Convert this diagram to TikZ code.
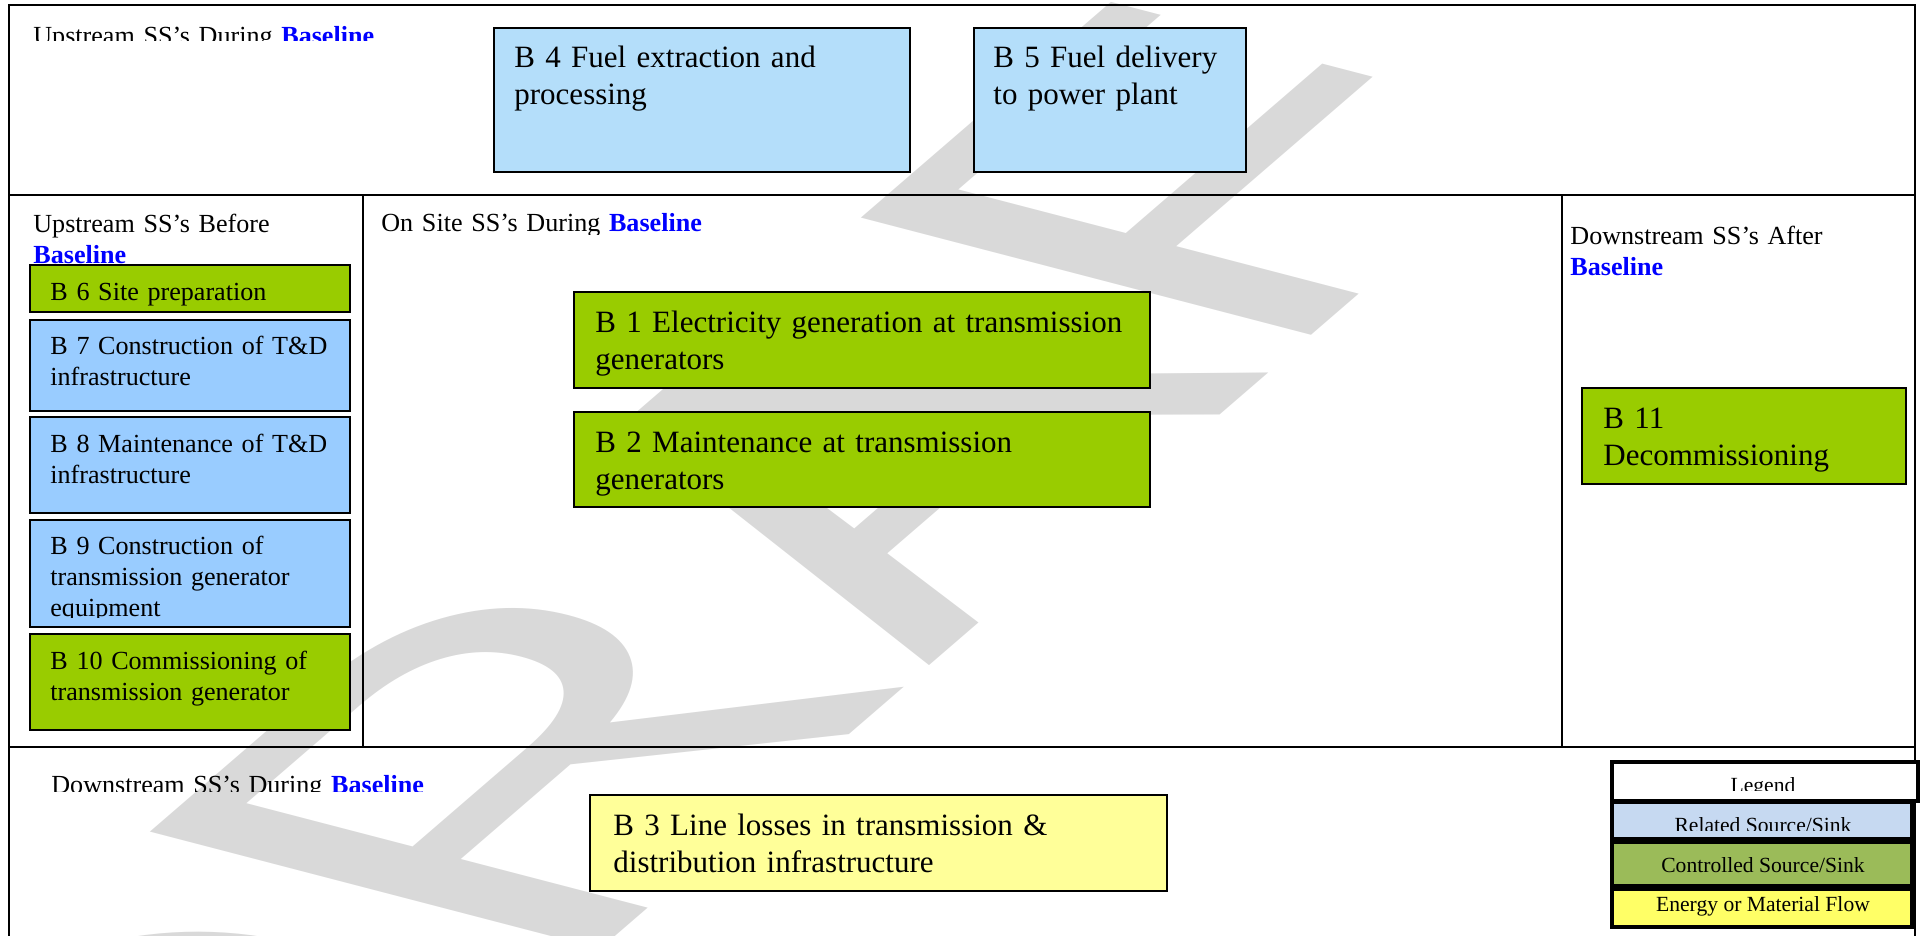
\documentclass[tikz,border=0pt]{standalone}
\usepackage{fontspec}
\setmainfont{Liberation Serif}
\newfontfamily\markfont{Liberation Sans}
\definecolor{fuelblue}{RGB}{180,222,250}
\definecolor{relblue}{RGB}{153,204,255}
\definecolor{ctrlgreen}{RGB}{153,204,0}
\definecolor{flowyellow}{RGB}{255,255,153}
\definecolor{legblue}{RGB}{198,217,241}
\definecolor{leggreen}{RGB}{155,187,89}
\definecolor{legyellow}{RGB}{255,255,102}
\definecolor{baseblue}{RGB}{0,0,255}
\def\blword{\textcolor{baseblue}{\textbf{Baseline}}}
\tikzset{
	frame/.style={line width=1pt},
	ssbox/.style={draw, line width=1pt},
	legbox/.style={draw, line width=1.8pt},
	bigtxt/.style={anchor=base west, inner sep=0, align=left, text width=300pt, font=\fontsize{15.5}{18.5}\selectfont},
	smalltxt/.style={anchor=base west, inner sep=0, align=left, text width=300pt, font=\fontsize{13.05}{15.5}\selectfont},
	legtxt/.style={anchor=base, inner sep=0, font=\fontsize{10.8}{12}\selectfont}
}

\begin{document}
\begin{tikzpicture}[x=0.5pt, y=-0.5pt]
			%%%%% START %%%%%
			\useasboundingbox (0,0) rectangle (1923,936);
			
			\path (189,1304) node[cm={0.757,0.653,-0.968,0.252,(0,0)}, anchor=base west, inner sep=0, text=gray!30, font=\markfont\fontsize{338}{338}\selectfont] (draftmark) {DRAFT};
			
			\draw[frame] (9,5) rectangle (1915,195);
			\draw[frame] (9,195) rectangle (363,747);
			\draw[frame] (363,195) rectangle (1562,747);
			\draw[frame] (1562,195) rectangle (1915,747);
			\draw[frame] (9,940) -- (9,747) -- (1915,747) -- (1915,940);
			
			\begin{scope}
				\clip (9,5) rectangle (1915,41);
				\node[smalltxt] (upduring) at (33,45) {Upstream SS’s During \blword};
			\end{scope}
			\node[smalltxt] (upbefore) at (33,233) {Upstream SS’s Before\\\blword};
			\begin{scope}
				\clip (363,195) rectangle (1562,235);
				\node[smalltxt] (onsite) at (381,232) {On Site SS’s During \blword};
			\end{scope}
			\node[smalltxt] (downafter) at (1570,245) {Downstream SS’s After\\\blword};
			\begin{scope}
				\clip (9,747) rectangle (1915,791);
				\node[smalltxt] (downduring) at (51,793) {Downstream SS’s During \blword};
			\end{scope}
			
			\draw[ssbox, fill=fuelblue] (494,28) rectangle (910,172);
			\node[bigtxt] (b4) at (514,68) {B 4 Fuel extraction and\\processing};
			\draw[ssbox, fill=fuelblue] (974,28) rectangle (1246,172);
			\node[bigtxt] (b5) at (993,68) {B 5 Fuel delivery\\to power plant};
			
			\draw[ssbox, fill=ctrlgreen] (574,292) rectangle (1150,388);
			\node[bigtxt] (b1) at (595,333) {B 1 Electricity generation at transmission\\generators};
			\draw[ssbox, fill=ctrlgreen] (574,412) rectangle (1150,507);
			\node[bigtxt] (b2) at (595,452) {B 2 Maintenance at transmission\\generators};
			
			\draw[ssbox, fill=flowyellow] (590,795) rectangle (1167,891);
			\node[bigtxt] (b3) at (613,835) {B 3 Line losses in transmission \&\\distribution infrastructure};
			
			\draw[ssbox, fill=ctrlgreen] (1582,388) rectangle (1906,484);
			\node[bigtxt] (b11) at (1603,428) {B 11\\Decommissioning};
			
			\draw[ssbox, fill=ctrlgreen] (30,265) rectangle (350,312);
			\node[smalltxt] (b6) at (50,301) {B 6 Site preparation};
			\draw[ssbox, fill=relblue] (30,320) rectangle (350,411);
			\node[smalltxt] (b7) at (50,355) {B 7 Construction of T\&D\\infrastructure};
			\draw[ssbox, fill=relblue] (30,417) rectangle (350,513);
			\node[smalltxt] (b8) at (50,452) {B 8 Maintenance of T\&D\\infrastructure};
			\draw[ssbox, fill=relblue] (30,520) rectangle (350,627);
			\begin{scope}
				\clip (30,520) rectangle (350,617);
				\node[smalltxt] (b9) at (50,554) {B 9 Construction of\\transmission generator\\equipment};
			\end{scope}
			\draw[ssbox, fill=ctrlgreen] (30,634) rectangle (350,730);
			\node[smalltxt] (b10) at (50,669) {B 10 Commissioning of\\transmission generator};
			
			\draw[legbox, line width=2.2pt, fill=white] (1612,762) rectangle (1918,801);
			\begin{scope}
				\clip (1612,762) rectangle (1918,790);
				\node[legtxt] (legend) at (1763,792) {Legend};
			\end{scope}
			\draw[legbox, fill=legblue] (1612,802) rectangle (1912,839);
			\begin{scope}
				\clip (1612,802) rectangle (1912,830);
				\node[legtxt] (related) at (1763,832) {Related Source/Sink};
			\end{scope}
			\draw[legbox, fill=leggreen] (1612,842) rectangle (1912,886);
			\node[legtxt] (controlled) at (1763,872) {Controlled Source/Sink};
			\draw[legbox, fill=legyellow] (1612,889) rectangle (1912,927);
			\node[legtxt] (flow) at (1763,911) {Energy or Material Flow};
			
			%%%%% END %%%%%
\end{tikzpicture}
\end{document}
